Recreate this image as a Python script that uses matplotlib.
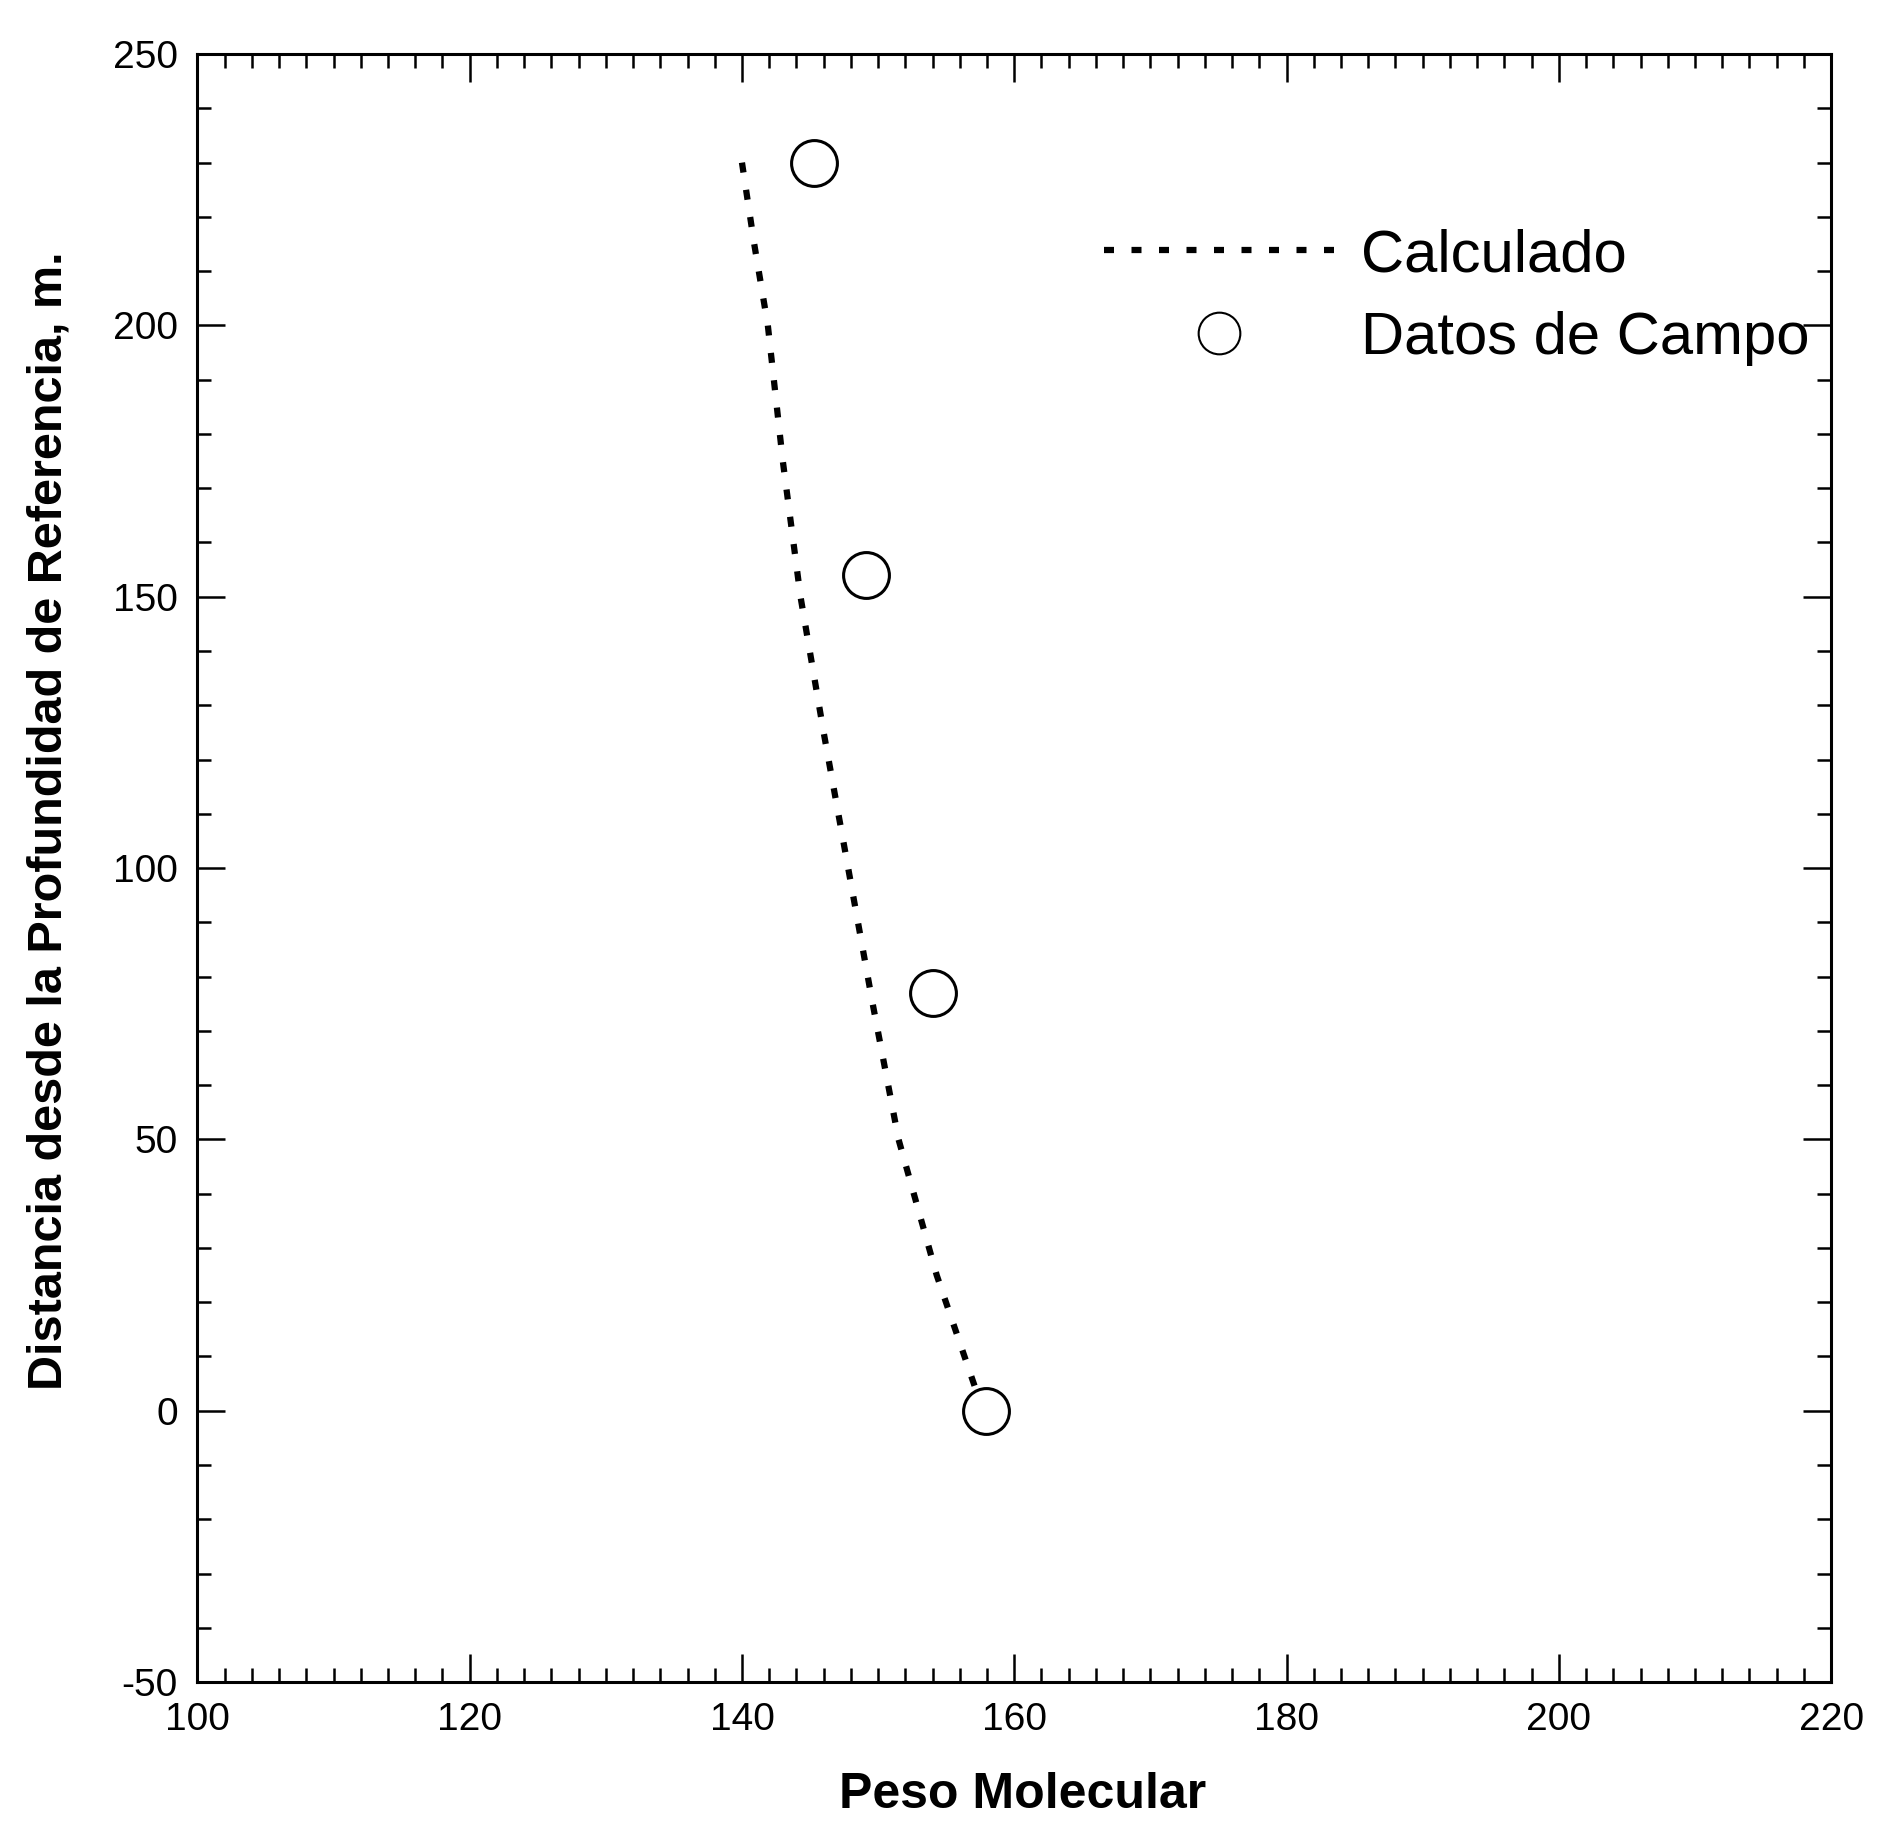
import matplotlib
matplotlib.use("Agg")
import matplotlib.pyplot as plt
from matplotlib.ticker import MultipleLocator
from matplotlib.lines import Line2D

# datos
peso_calc = [140.0, 140.9, 141.9, 143.0, 144.3, 146.0, 147.8, 149.6, 151.5, 154.3, 157.3]
dist_calc = [230, 215, 200, 175, 150, 125, 100, 75, 50, 25, 3]

peso_campo = [145.3, 149.1, 154.0, 157.9]
dist_campo = [230, 154, 77, 0]

xticks = [100, 120, 140, 160, 180, 200, 220]
yticks = [-50, 0, 50, 100, 150, 200, 250]

plt.rcParams['font.family'] = ['Liberation Sans', 'DejaVu Sans']
plt.rcParams['axes.unicode_minus'] = False

fig = plt.figure(figsize=(18.8, 18.21), dpi=100)
ax = fig.add_axes([0.105, 0.0763, 0.869, 0.894])

ax.plot(peso_calc, dist_calc, color='black', linewidth=4.5, linestyle=(0, (1.6, 2.8)))
ax.plot(peso_campo, dist_campo, linestyle='none', marker='o', markersize=33,
        markerfacecolor='none', markeredgecolor='black', markeredgewidth=2.2)

ax.set_xlim(100, 220)
ax.set_ylim(-50, 250)
ax.set_xticks(xticks)
ax.set_yticks(yticks)
ax.xaxis.set_minor_locator(MultipleLocator(2))
ax.yaxis.set_minor_locator(MultipleLocator(10))
ax.tick_params(which='both', direction='in', top=True, right=True, width=1.8,
               labelsize=28)
ax.tick_params(which='major', length=20)
ax.tick_params(which='minor', length=10)
ax.tick_params(axis='x', pad=14)
ax.tick_params(axis='y', pad=14)
for s in ax.spines.values():
    s.set_linewidth(2.2)

ax.set_xlabel('Peso Molecular', fontsize=36, fontweight='bold')
ax.set_ylabel('Distancia desde la Profundidad de Referencia, m.', fontsize=35,
              fontweight='bold')
ax.xaxis.set_label_coords(0.505, -0.055)
ax.yaxis.set_label_coords(-0.077, 0.529)

handles = [
    Line2D([], [], color='black', linewidth=4.5, linestyle=(0, (1.6, 2.8))),
    Line2D([], [], linestyle='none', marker='o', markersize=30,
           markerfacecolor='none', markeredgecolor='black', markeredgewidth=1.5),
]
ax.legend(handles, ['Calculado', 'Datos de Campo'], loc='upper left',
          bbox_to_anchor=(0.555, 0.893), frameon=False, fontsize=43,
          handlelength=3.85, handletextpad=0.45, labelspacing=0.47,
          borderpad=0, borderaxespad=0)

fig.savefig('out.png', dpi=100)
